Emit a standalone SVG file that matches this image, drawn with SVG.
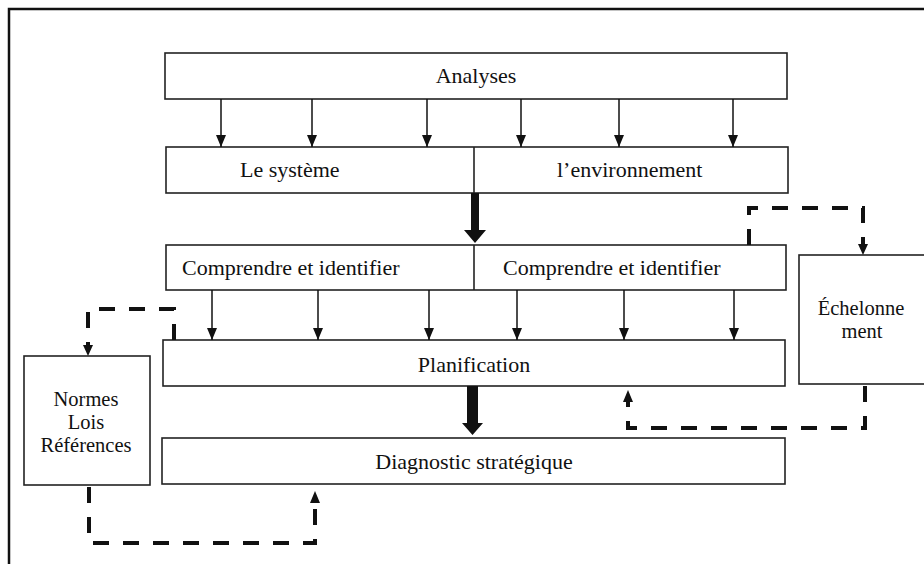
<svg xmlns="http://www.w3.org/2000/svg" width="924" height="564" viewBox="0 0 924 564">
  <style>
    .box { fill: #ffffff; stroke: #222; stroke-width: 1.6; }
    .lbl { font-family: 'Liberation Serif', 'DejaVu Serif', serif; font-size: 22px; fill: #111; }
    .side { font-family: 'Liberation Serif', 'DejaVu Serif', serif; font-size: 20.5px; fill: #111; text-anchor: middle; }
    .mid { text-anchor: middle; }
    .thin { fill: none; stroke: #111; stroke-width: 1.5; marker-end: url(#tri); }
    .dash { fill: none; stroke: #111; stroke-width: 4; stroke-dasharray: 16 14; }
    .head { fill: #111; }
    .frame { fill: none; stroke: #111; stroke-width: 2.5; }
  </style>
  <defs>
    <!-- small solid arrowhead for the thin flow lines -->
    <marker id="tri" viewBox="0 0 12 10" refX="12" refY="5" markerWidth="12" markerHeight="10" orient="auto" markerUnits="userSpaceOnUse">
      <path d="M0,0 L12,5 L0,10 Z" fill="#111"/>
    </marker>
  </defs>

  <rect width="924" height="564" fill="#ffffff"/>
  <!-- page frame (top and left edges) -->
  <path class="frame" d="M9,564 V9 H924"/>

  <g id="analyses">
    <rect class="box" x="165" y="53" width="622" height="46"/>
    <text class="lbl mid" x="476" y="83">Analyses</text>
  </g>

  <g id="systeme-environnement">
    <rect class="box" x="166" y="147" width="622" height="46"/>
    <line x1="474" y1="147" x2="474" y2="193" stroke="#222" stroke-width="1.6"/>
    <text class="lbl" x="240" y="177">Le système</text>
    <text class="lbl" x="557" y="177">l’environnement</text>
  </g>

  <g id="comprendre">
    <rect class="box" x="166" y="245" width="620" height="45"/>
    <line x1="474" y1="245" x2="474" y2="290" stroke="#222" stroke-width="1.6"/>
    <text class="lbl" x="182" y="275">Comprendre et identifier</text>
    <text class="lbl" x="503" y="275">Comprendre et identifier</text>
  </g>

  <g id="planification">
    <rect class="box" x="163" y="340" width="622" height="46"/>
    <text class="lbl mid" x="474" y="372">Planification</text>
  </g>

  <g id="diagnostic">
    <rect class="box" x="162" y="438" width="623" height="46"/>
    <text class="lbl mid" x="474" y="469">Diagnostic stratégique</text>
  </g>

  <g id="normes">
    <rect class="box" x="24" y="356" width="126" height="129"/>
    <text class="side" x="86" y="406">Normes</text>
    <text class="side" x="86" y="429">Lois</text>
    <text class="side" x="86" y="452">Références</text>
  </g>

  <g id="echelonnement">
    <rect class="box" x="799" y="255" width="130" height="129"/>
    <text class="side" x="861" y="315">Échelonne</text>
    <text class="side" x="862" y="338">ment</text>
  </g>

  <g id="connectors">
    <!-- Analyses to the two halves -->
    <line class="thin" x1="221" y1="99" x2="221" y2="147"/>
    <line class="thin" x1="312" y1="99" x2="312" y2="147"/>
    <line class="thin" x1="427" y1="99" x2="427" y2="147"/>
    <line class="thin" x1="521" y1="99" x2="521" y2="147"/>
    <line class="thin" x1="619" y1="99" x2="619" y2="147"/>
    <line class="thin" x1="733" y1="99" x2="733" y2="147"/>

    <!-- Comprendre to Planification -->
    <line class="thin" x1="212" y1="290" x2="212" y2="340"/>
    <line class="thin" x1="318" y1="290" x2="318" y2="340"/>
    <line class="thin" x1="429" y1="290" x2="429" y2="340"/>
    <line class="thin" x1="517" y1="290" x2="517" y2="340"/>
    <line class="thin" x1="624" y1="290" x2="624" y2="340"/>
    <line class="thin" x1="734" y1="290" x2="734" y2="340"/>

    <!-- heavy arrows -->
    <path class="head" d="M471,193 H479 V230 H486 L475,243 L464,230 H471 Z"/>
    <path class="head" d="M467,386 H478 V423 H483 L472.5,435 L462,423 H467 Z"/>

    <!-- Planification to Normes -->
    <path class="dash" d="M174,340 V309 H88 V346"/>
    <path class="head" d="M83,345 L93,345 L88,356 Z"/>

    <!-- Comprendre to Echelonnement -->
    <path class="dash" d="M749,245 V208 H863 V244"/>
    <path class="head" d="M858,244 L868,244 L863,255 Z"/>

    <!-- Echelonnement back to Planification -->
    <path class="dash" d="M865,386 V428 H628 V402"/>
    <path class="head" d="M623,402 L633,402 L628,390 Z"/>

    <!-- Normes to Diagnostic -->
    <path class="dash" d="M89,487 V543 H315 V503"/>
    <path class="head" d="M310,503 L320,503 L315,491 Z"/>
  </g>
</svg>
